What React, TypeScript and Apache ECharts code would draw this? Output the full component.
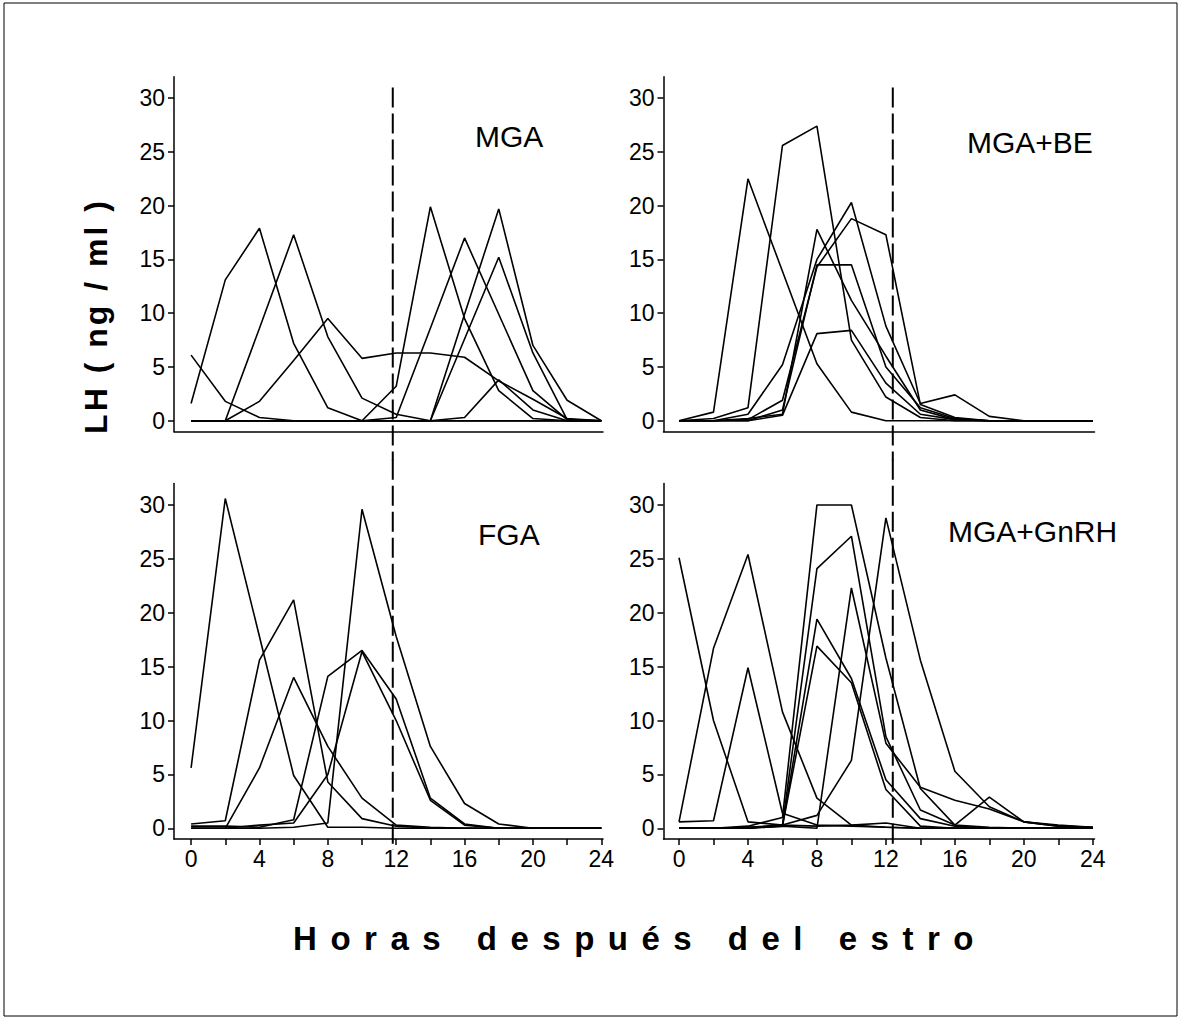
import React, { useEffect, useRef } from "react";
import * as echarts from "echarts";

// ---- data ----
const hours = [0, 2, 4, 6, 8, 10, 12, 14, 16, 18, 20, 22, 24];
const yTickValues = [0, 5, 10, 15, 20, 25, 30];
const xTickValues = [0, 2, 4, 6, 8, 10, 12, 14, 16, 18, 20, 22, 24];
const xLabelValues = [0, 4, 8, 12, 16, 20, 24];

const panelNames = ["MGA", "MGA+BE", "FGA", "MGA+GnRH"];
const yTitle = "LH ( ng / ml )";
const xTitle = "Horas después del estro";

// dashed reference line (hours) for left and right columns
const cutHours = [11.8, 12.4];

const mga = [
  [1.6, 13.1, 17.9, 7.2, 1.2, 0, 0, 0, 0, 0, 0, 0, 0],
  [0, 0, 8.6, 17.3, 7.8, 2.1, 0.6, 0, 0, 0, 0, 0, 0],
  [0, 0, 1.8, 5.6, 9.5, 5.8, 6.3, 6.3, 5.9, 3.7, 2.0, 0.2, 0],
  [6.1, 1.8, 0.3, 0, 0, 0, 0, 0, 0, 0, 0, 0, 0],
  [0, 0, 0, 0, 0, 0, 3.2, 19.9, 9.5, 2.8, 0.2, 0, 0],
  [0, 0, 0, 0, 0, 0, 0.3, 8.6, 17.0, 9.9, 2.8, 0.1, 0],
  [0, 0, 0, 0, 0, 0, 0, 0, 9.9, 19.7, 7.0, 1.9, 0],
  [0, 0, 0, 0, 0, 0, 0, 0, 7.6, 15.2, 6.3, 0.1, 0],
  [0, 0, 0, 0, 0, 0, 0, 0, 0.3, 3.8, 1.0, 0, 0],
];

const mgaBe = [
  [0, 0.8, 22.5, 13.9, 5.3, 0.8, 0, 0, 0, 0, 0, 0, 0],
  [0, 0.2, 1.2, 25.6, 27.4, 7.5, 2.2, 0.3, 0, 0, 0, 0, 0],
  [0, 0, 0.2, 0.6, 17.8, 11.2, 6.0, 1.0, 0.1, 0, 0, 0, 0],
  [0, 0, 0.6, 5.2, 15.0, 20.3, 8.8, 1.6, 2.4, 0.4, 0, 0, 0],
  [0, 0, 0.1, 1.9, 14.3, 18.8, 17.3, 1.5, 0.3, 0, 0, 0, 0],
  [0, 0, 0, 1.0, 14.5, 14.5, 5.0, 1.2, 0.2, 0, 0, 0, 0],
  [0, 0, 0, 0.5, 8.1, 8.4, 3.5, 0.6, 0.1, 0, 0, 0, 0],
];

const fga = [
  [5.6, 30.6, 17.8, 4.9, 0.1, 0.1, 0, 0, 0, 0, 0, 0, 0],
  [0.4, 0.7, 15.6, 21.2, 4.3, 0.9, 0.2, 0, 0, 0, 0, 0, 0],
  [0, 0, 5.6, 14.0, 7.6, 2.8, 0.3, 0.1, 0, 0, 0, 0, 0],
  [0.2, 0.2, 0.1, 0.8, 14.1, 16.5, 12.0, 2.8, 0.4, 0, 0, 0, 0],
  [0, 0, 0.3, 0.5, 5.0, 16.4, 10.0, 2.6, 0.3, 0, 0, 0, 0],
  [0, 0, 0, 0.1, 0.5, 29.6, 17.8, 7.6, 2.3, 0.4, 0, 0, 0],
];

const mgaGnrh = [
  [25.1, 10.0, 0.6, 0.3, 0.2, 0.3, 0.5, 0, 0, 0, 0, 0, 0],
  [0.6, 16.7, 25.4, 10.8, 2.8, 0.3, 0.1, 0, 0, 0, 0, 0, 0],
  [0.6, 0.7, 14.9, 1.4, 0.3, 0.2, 0.1, 0, 0, 0, 0, 0, 0],
  [0, 0, 0.2, 1.0, 30.0, 30.0, 15.8, 3.7, 0.3, 2.9, 0.6, 0.2, 0.1],
  [0, 0, 0.1, 0.3, 24.1, 27.1, 8.5, 1.7, 0.3, 0.1, 0, 0, 0],
  [0, 0, 0.1, 0.2, 19.4, 13.9, 4.5, 0.9, 0.2, 0, 0, 0, 0],
  [0, 0, 0, 0.2, 16.9, 13.5, 3.6, 0.2, 0, 0, 0, 0, 0],
  [0, 0, 0, 0.2, 0, 22.3, 7.9, 3.8, 2.6, 1.8, 0.6, 0.3, 0.1],
  [0, 0, 0, 0.3, 1.2, 6.3, 28.8, 15.6, 5.3, 2.0, 0.6, 0.2, 0.1],
];

const panels = [mga, mgaBe, fga, mgaGnrh];

const FONT = "'Liberation Sans', Arial, Helvetica, sans-serif";

export default function App() {
  const ref = useRef<HTMLDivElement>(null);

  useEffect(() => {
    if (!ref.current) return;
    const chart = echarts.init(ref.current, null, { renderer: "svg" });

    const grids = [
      { left: 174, top: 76.7, width: 429, height: 354.75 },
      { left: 663.5, top: 76.7, width: 431, height: 354.75 },
      { left: 174, top: 483.4, width: 429, height: 355.7 },
      { left: 663.5, top: 483.4, width: 431, height: 355.7 },
    ];

    const axisLineStyle = { color: "#000", width: 1.5 };

    const xAxes = grids.map((_, i) => {
      const bottomRow = i >= 2;
      const rightCol = i % 2 === 1;
      return {
        type: "value",
        gridIndex: i,
        min: rightCol ? -0.9 : -1,
        max: 24.1,
        axisLine: { show: true, onZero: false, lineStyle: axisLineStyle },
        axisTick: {
          show: bottomRow,
          customValues: xTickValues,
          length: 6,
          lineStyle: axisLineStyle,
        },
        axisLabel: {
          show: bottomRow,
          customValues: xLabelValues,
          fontSize: 23,
          fontFamily: FONT,
          color: "#000",
          margin: 8,
        },
        splitLine: { show: false },
      };
    });

    const yAxes = grids.map((_, i) => ({
      type: "value",
      gridIndex: i,
      min: -1,
      max: 32,
      axisLine: { show: true, onZero: false, lineStyle: axisLineStyle },
      axisTick: {
        show: true,
        customValues: yTickValues,
        length: 6,
        lineStyle: axisLineStyle,
      },
      axisLabel: {
        show: true,
        customValues: yTickValues,
        fontSize: 23,
        fontFamily: FONT,
        color: "#000",
        margin: 9,
      },
      splitLine: { show: false },
    }));

    const series: any[] = [];
    panels.forEach((lines, p) => {
      lines.forEach((vals, k) => {
        series.push({
          type: "line",
          name: `${panelNames[p]}-${k + 1}`,
          xAxisIndex: p,
          yAxisIndex: p,
          data: hours.map((h, j) => [h, vals[j]]),
          symbol: "none",
          showSymbol: false,
          silent: true,
          lineStyle: { color: "#000", width: 1.6 },
        });
      });
      const cut = cutHours[p % 2];
      const top = p < 2 ? 31 : 34.2;
      const bot = p < 2 ? -3.7 : -2.0;
      series.push({
        type: "line",
        name: `cut-${p}`,
        xAxisIndex: p,
        yAxisIndex: p,
        data: [
          [cut, top],
          [cut, bot],
        ],
        symbol: "none",
        showSymbol: false,
        silent: true,
        clip: false,
        lineStyle: { color: "#000", width: 2, type: [20, 6] },
      });
    });

    const labelPos = [
      { x: 475, y: 136 },
      { x: 967, y: 142 },
      { x: 478, y: 534 },
      { x: 948, y: 531 },
    ];

    const graphic: any[] = [
      {
        type: "rect",
        shape: { x: 4, y: 3, width: 1173, height: 1013 },
        style: { fill: "none", stroke: "#000", lineWidth: 1 },
        silent: true,
      },
      ...panelNames.map((name, i) => ({
        type: "text",
        x: labelPos[i].x,
        y: labelPos[i].y,
        silent: true,
        style: {
          text: name,
          fontSize: 30,
          fontFamily: FONT,
          fill: "#000",
          align: "left",
          verticalAlign: "middle",
          textAlign: "left",
          textVerticalAlign: "middle",
        },
      })),
      {
        type: "text",
        x: 96,
        y: 316,
        rotation: Math.PI / 2,
        silent: true,
        style: {
          text: yTitle,
          fontSize: 32,
          fontWeight: "bold",
          fontFamily: FONT,
          fill: "#000",
          align: "center",
          verticalAlign: "middle",
          textAlign: "center",
          textVerticalAlign: "middle",
        },
      },
      {
        type: "text",
        x: 640,
        y: 938,
        silent: true,
        style: {
          text: xTitle,
          fontSize: 33,
          fontWeight: "bold",
          fontFamily: FONT,
          fill: "#000",
          align: "center",
          verticalAlign: "middle",
          textAlign: "center",
          textVerticalAlign: "middle",
        },
      },
    ];

    chart.setOption({
      animation: false,
      backgroundColor: "#fff",
      grid: grids,
      xAxis: xAxes,
      yAxis: yAxes,
      series,
      graphic,
    });

    const applySpacing = () => {
      const root = ref.current;
      if (!root) return;
      root.querySelectorAll("text").forEach((t) => {
        if (t.textContent === xTitle) t.setAttribute("letter-spacing", "13.5");
        if (t.textContent === yTitle) t.setAttribute("letter-spacing", "3");
      });
    };
    applySpacing();
    chart.on("finished", applySpacing);

    return () => {
      chart.dispose();
    };
  }, []);

  return (
    <div
      ref={ref}
      style={{ position: "absolute", left: 0, top: 0, width: 1181, height: 1020, background: "#fff" }}
    />
  );
}
